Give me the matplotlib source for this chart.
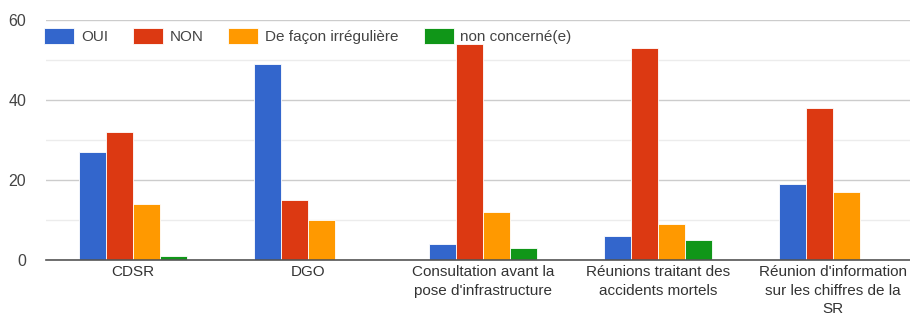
import matplotlib
matplotlib.use("Agg")
import matplotlib.pyplot as plt
import numpy as np

categories = ["CDSR", "DGO", "Consultation avant la\npose d'infrastructure",
              "Réunions traitant des\naccidents mortels",
              "Réunion d'information\nsur les chiffres de la\nSR"]
series_names = ["OUI", "NON", "De façon irrégulière", "non concerné(e)"]
oui = [27, 49, 4, 6, 19]
non = [32, 15, 54, 53, 38]
irreguliere = [14, 10, 12, 9, 17]
non_concerne = [1, 0, 3, 5, 0]
colors = ["#3366cc", "#dc3912", "#ff9900", "#109618"]
yticks = [0, 20, 40, 60]

plt.rcParams['font.family'] = ['Liberation Sans', 'DejaVu Sans']
fig = plt.figure(figsize=(9.1, 3.17), dpi=100)
ax = fig.add_axes([45.5 / 910, 0.18, 875 / 910, 0.757])

x = np.arange(len(categories))
w = 0.154
data = [oui, non, irreguliere, non_concerne]
handles = []
for i, (vals, c, name) in enumerate(zip(data, colors, series_names)):
    b = ax.bar(x + (i - 1.5) * w, vals, w, color=c, edgecolor="white", linewidth=0.6, label=name, zorder=3)
    handles.append(b)

ax.set_xlim(-0.5, len(categories) - 0.5)
ax.set_ylim(0, 60)
ax.set_yticks(yticks)
ax.set_yticks([10, 30, 50], minor=True)
ax.grid(axis="y", which="major", color="#cccccc", linewidth=1, zorder=0)
ax.grid(axis="y", which="minor", color="#ececec", linewidth=1, zorder=0)
ax.tick_params(axis="y", which="both", length=0, labelsize=11.5, labelcolor="#444444", pad=14)
ax.set_xticks(x)
ax.set_xticklabels(categories, fontsize=11, color="#333333", linespacing=1.4)
ax.tick_params(axis="x", length=0, pad=4)
for s in ["top", "right", "left"]:
    ax.spines[s].set_visible(False)
ax.spines["bottom"].set_color("#555555")
ax.spines["bottom"].set_linewidth(1.2)
ax.spines["bottom"].set_zorder(4)

leg = fig.legend(handles=handles, labels=series_names, loc="center left",
                 bbox_to_anchor=(44 / 910, 1 - 36 / 317), ncol=4, frameon=False, fontsize=11,
                 handlelength=1.96, handleheight=1.2, handletextpad=0.45, columnspacing=1.63,
                 borderaxespad=0, borderpad=0)
for t in leg.get_texts():
    t.set_color("#444444")

fig.savefig("out.png", dpi=100)
